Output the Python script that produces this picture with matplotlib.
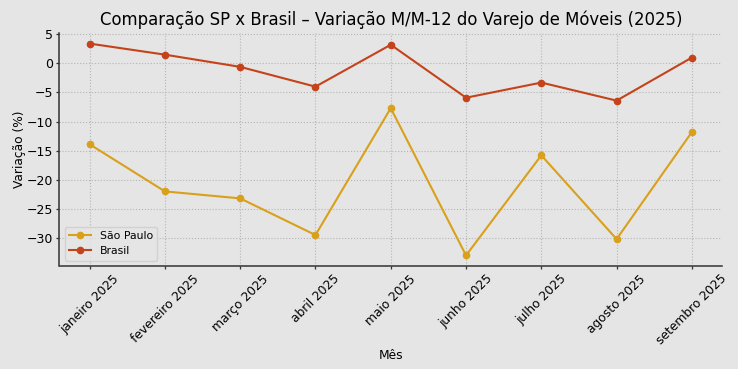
import matplotlib
matplotlib.use("Agg")
import matplotlib.pyplot as plt

meses = ["janeiro 2025", "fevereiro 2025", "março 2025", "abril 2025", "maio 2025",
         "junho 2025", "julho 2025", "agosto 2025", "setembro 2025"]
sao_paulo = [-13.9, -22.0, -23.2, -29.5, -7.7, -33.0, -15.8, -30.2, -11.8]
brasil = [3.4, 1.5, -0.6, -4.0, 3.2, -5.9, -3.3, -6.4, 1.0]

bg = "#e5e5e5"
fig = plt.figure(figsize=(7.38, 3.69), dpi=100, facecolor=bg)
ax = fig.add_axes([59.5/738, 1 - 266/369, (722 - 59.5)/738, (266 - 33)/369])
ax.set_facecolor(bg)

x = list(range(len(meses)))
ax.plot(x, sao_paulo, marker="o", markersize=4.5, linewidth=1.5, color="#D9A01B", label="São Paulo")
ax.plot(x, brasil, marker="o", markersize=4.5, linewidth=1.5, color="#C4431A", label="Brasil")

ax.set_xticks(x)
ax.set_xticklabels(meses, rotation=45, ha="center", fontsize=8.8)
ax.tick_params(axis="both", length=2.5, width=0.9, pad=2, color="#333333")
ax.tick_params(axis="y", labelsize=9)
ax.set_yticks([5, 0, -5, -10, -15, -20, -25, -30])
ax.set_yticklabels(["5", "0", "\u22125", "\u221210", "\u221215", "\u221220", "\u221225", "\u221230"])
ax.grid(True, linestyle=":", color="#b5b5b5", linewidth=0.8)
ax.set_axisbelow(True)
for s in ["top", "right"]:
    ax.spines[s].set_visible(False)
for s in ["left", "bottom"]:
    ax.spines[s].set_color("#333333")
    ax.spines[s].set_linewidth(1.1)

ax.set_title("Comparação SP x Brasil – Variação M/M-12 do Varejo de Móveis (2025)", fontsize=11.9, pad=6)
ax.set_xlabel("Mês", fontsize=8.8)
ax.set_ylabel("Variação (%)", fontsize=8.8)
ax.xaxis.set_label_coords(0.5, (266 - 349) / 233)
ax.yaxis.set_label_coords((26 - 59.5) / 662.5, 0.5)
leg = ax.legend(loc="lower left", fontsize=7.8, frameon=True, facecolor=bg, edgecolor="#cccccc")

fig.savefig("out.png", dpi=100, facecolor=bg)
